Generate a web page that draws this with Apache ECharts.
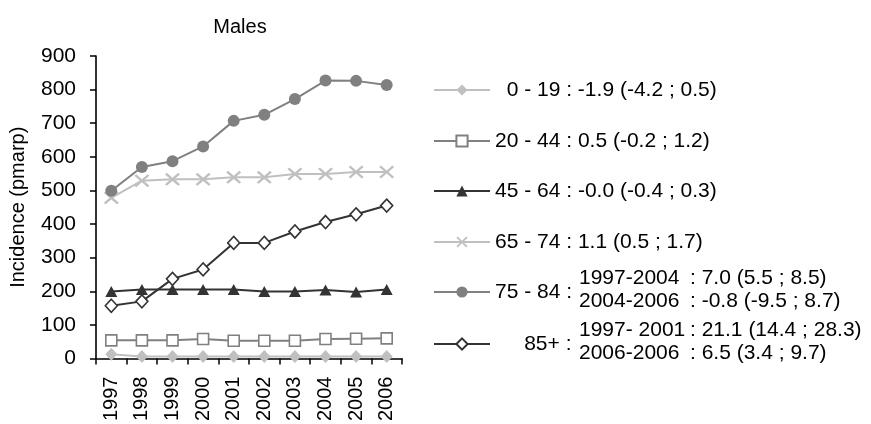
<!DOCTYPE html>
<html>
<head>
<meta charset="utf-8">
<script src="https://cdn.jsdelivr.net/npm/echarts@6/dist/echarts.min.js"></script>
<style>
  html, body { margin: 0; padding: 0; background: #fff; }
  #chart { width: 871px; height: 424px; }
</style>
</head>
<body>
<div id="chart"></div>
<script>
// Incidence per million age-related population, males, by age group
const years = ['1997', '1998', '1999', '2000', '2001', '2002', '2003', '2004', '2005', '2006'];
const yTicks = { min: 0, max: 900, step: 100 };

const age0_19  = [13, 6, 6, 6, 6, 6, 6, 6, 6, 6];
const age20_44 = [54, 54, 54, 58, 53, 53, 53, 58, 59, 60];
const age45_64 = [199, 205, 205, 205, 205, 199, 199, 204, 198, 205];
const age65_74 = [478, 529, 533, 533, 539, 539, 549, 549, 555, 555];
const age75_84 = [499, 570, 587, 631, 707, 725, 772, 827, 826, 814];
const age85    = [157, 170, 237, 265, 344, 344, 378, 406, 429, 455];

const groupNames = ['0 - 19', '20 - 44', '45 - 64', '65 - 74', '75 - 84', '85+'];

// Annual percent change with 95% CI; split groups list one line per period
const trendText = [
  [{ period: '', value: '-1.9 (-4.2 ; 0.5)' }],
  [{ period: '', value: '0.5 (-0.2 ; 1.2)' }],
  [{ period: '', value: '-0.0 (-0.4 ; 0.3)' }],
  [{ period: '', value: '1.1 (0.5 ; 1.7)' }],
  [{ period: '1997-2004', value: '7.0 (5.5 ; 8.5)' }, { period: '2004-2006', value: '-0.8 (-9.5 ; 8.7)' }],
  [{ period: '1997- 2001', value: '21.1 (14.4 ; 28.3)' }, { period: '2006-2006', value: '6.5 (3.4 ; 9.7)' }]
];

const FONT = '"Liberation Sans", Arial, Helvetica, sans-serif';
const LEGEND_FONT = 21;

const crossPath = 'path://M0,1.2L1.2,0L5,3.8L8.8,0L10,1.2L6.2,5L10,8.8L8.8,10L5,6.2L1.2,10L0,8.8L3.8,5Z';

const seriesStyle = [
  { data: age0_19,  color: '#c0c0c0', symbol: 'diamond', size: [12, 13], fill: '#c0c0c0' },
  { data: age20_44, color: '#808080', symbol: 'rect', size: 11, fill: '#ffffff' },
  { data: age45_64, color: '#333333', symbol: 'triangle', size: [12, 11], fill: '#333333' },
  { data: age65_74, color: '#c0c0c0', symbol: crossPath, size: [15, 13], fill: '#c0c0c0' },
  { data: age75_84, color: '#808080', symbol: 'circle', size: 12, fill: '#808080' },
  { data: age85,    color: '#333333', symbol: 'diamond', size: [12, 13], fill: '#ffffff' }
];

const series = seriesStyle.map((s, i) => ({
  name: groupNames[i],
  type: 'line',
  data: s.data,
  symbol: s.symbol,
  symbolSize: s.size,
  showAllSymbol: true,
  lineStyle: { color: s.color, width: 2 },
  itemStyle: {
    color: s.fill,
    borderColor: s.color,
    borderWidth: (s.fill === '#ffffff') ? 1.6 : 0
  },
  emphasis: { disabled: true },
  z: 2 + i
}));

// One legend block per age group so each row sits at its own height
const legendCenters = [85, 136, 186, 237, 287, 339];
const labelLead = ['  ', '', '', '', '', '     '];
const legends = groupNames.map((name, i) => {
  const lines = trendText[i];
  const text = lines.length > 1
    ? labelLead[i] + name + ' :'
    : labelLead[i] + name + ' : ' + lines[0].value;
  return {
    data: [name],
    orient: 'vertical',
    left: 428,
    top: legendCenters[i] - 12,
    itemWidth: 56,
    itemHeight: 14,
    selectedMode: false,
    formatter: () => text,
    textStyle: { fontFamily: FONT, fontSize: LEGEND_FONT, color: '#000', lineHeight: 24 }
  };
});

// Period-specific trends for the split age groups, two lines beside the label
const periodText = [];
groupNames.forEach((name, i) => {
  const lines = trendText[i];
  if (lines.length < 2) return;
  const mid = legendCenters[i] + 2;
  lines.forEach((ln, k) => {
    const y = mid + (k === 0 ? -11 : 12);
    periodText.push({
      type: 'text', left: 579, top: y - 12, silent: true,
      style: { text: ln.period, font: LEGEND_FONT + 'px ' + FONT, fill: '#000', lineHeight: 24 }
    });
    periodText.push({
      type: 'text', left: 690, top: y - 12, silent: true,
      style: { text: ': ' + ln.value, font: LEGEND_FONT + 'px ' + FONT, fill: '#000', lineHeight: 24 }
    });
  });
});

const chart = echarts.init(document.getElementById('chart'), null, { renderer: 'canvas' });
chart.setOption({
  animation: false,
  backgroundColor: '#ffffff',
  title: {
    text: 'Males',
    left: 235,
    top: 12,
    textAlign: 'center',
    textStyle: { fontFamily: FONT, fontSize: 20, fontWeight: 'normal', color: '#000' }
  },
  grid: { left: 96, right: 469, top: 56, bottom: 63, containLabel: false },
  legend: legends,
  graphic: periodText,
  xAxis: {
    type: 'category',
    data: years,
    boundaryGap: true,
    axisLine: { show: true, lineStyle: { color: '#000', width: 1.6 } },
    axisTick: { show: true, interval: 0, inside: false, length: 6, lineStyle: { color: '#000', width: 1.5 } },
    axisLabel: { interval: 0, rotate: 90, margin: 18, fontFamily: FONT, fontSize: 20, color: '#000' },
    splitLine: { show: false }
  },
  yAxis: {
    type: 'value',
    min: yTicks.min,
    max: yTicks.max,
    interval: yTicks.step,
    name: 'Incidence (pmarp)',
    nameLocation: 'middle',
    nameGap: 68,
    nameTextStyle: { fontFamily: FONT, fontSize: 20, color: '#000' },
    axisLine: { show: true, lineStyle: { color: '#000', width: 1.6 } },
    axisTick: { show: true, length: 6, lineStyle: { color: '#000', width: 1.5 } },
    axisLabel: { margin: 20, fontFamily: FONT, fontSize: 21, color: '#000' },
    splitLine: { show: false }
  },
  series: series
});
</script>
</body>
</html>
